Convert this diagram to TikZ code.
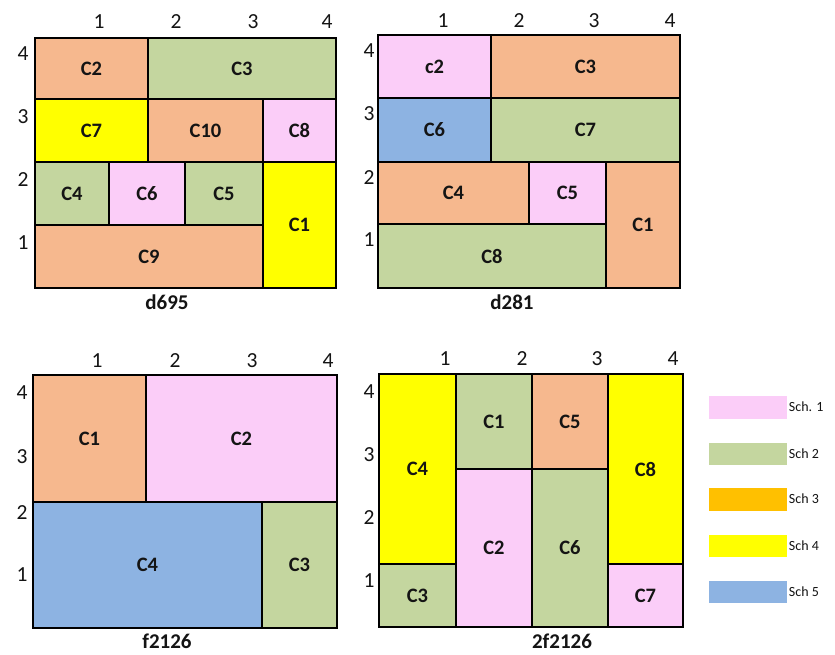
\documentclass[tikz,border=0pt]{standalone}
\usepackage{fontspec}
\setmainfont{Carlito}
\definecolor{peach}{HTML}{F6B88E}
\definecolor{sgreen}{HTML}{C4D69F}
\definecolor{spink}{HTML}{FBCDF8}
\definecolor{syellow}{HTML}{FFFF00}
\definecolor{sblue}{HTML}{8DB3E2}
\definecolor{sorange}{HTML}{FFC000}
\definecolor{ink}{HTML}{141414}
\newcommand\cellbox[7]{%
  \filldraw[fill=#5, draw=black, line width=2pt] (#1,#2) rectangle (#3,#4);
  \node[celltext] (#7) at ({(#1+#3)/2},{(#2+#4)/2}) {#6};}
\tikzset{
  celltext/.style={font=\bfseries\fontsize{20.5}{22}\selectfont, text=ink, inner sep=0pt},
  axnum/.style={font=\fontsize{21.5}{23}\selectfont, text=ink, inner sep=0pt},
  title/.style={font=\bfseries\fontsize{21}{23}\selectfont, text=ink, inner sep=0pt},
  legbox/.style={minimum width=79pt, minimum height=23.5pt, inner sep=0pt, draw=white, line width=0.5pt},
  legtext/.style={font=\fontsize{14}{15}\selectfont, text=ink, inner sep=0pt, anchor=west}
}
\begin{document}
\begin{tikzpicture}[x=1pt,y=-1pt]
\useasboundingbox (0,0) rectangle (835,654);
\fill[white] (0,0) rectangle (835,654);
% ---- d695 ----
\cellbox{35}{38}{148}{99}{peach}{C2}{a2}
\cellbox{148}{38}{336}{99}{sgreen}{C3}{a3}
\cellbox{35}{99}{148}{162}{syellow}{C7}{a7}
\cellbox{148}{99}{263}{162}{peach}{C10}{a10}
\cellbox{263}{99}{336}{162}{spink}{C8}{a8}
\cellbox{35}{162}{109}{225}{sgreen}{C4}{a4}
\cellbox{109}{162}{185}{225}{spink}{C6}{a6}
\cellbox{185}{162}{263}{225}{sgreen}{C5}{a5}
\cellbox{35}{225}{263}{288}{peach}{C9}{a9}
\cellbox{263}{162}{336}{288}{syellow}{C1}{a1}
\node[axnum] (at1) at (99,22) {1};
\node[axnum] (at2) at (176,22) {2};
\node[axnum] (at3) at (253,22) {3};
\node[axnum] (at4) at (327,22) {4};
\node[axnum] (al4) at (23,54) {4};
\node[axnum] (al3) at (23,117) {3};
\node[axnum] (al2) at (23,180) {2};
\node[axnum] (al1) at (23,243) {1};
\node[title] (ta) at (167,302) {d695};
% ---- d281 ----
\cellbox{378}{35}{491}{98}{spink}{c2}{b2}
\cellbox{491}{35}{680}{98}{peach}{C3}{b3}
\cellbox{378}{98}{491}{162}{sblue}{C6}{b6}
\cellbox{491}{98}{680}{162}{sgreen}{C7}{b7}
\cellbox{378}{162}{529}{224}{peach}{C4}{b4}
\cellbox{529}{162}{606}{224}{spink}{C5}{b5}
\cellbox{378}{224}{606}{288}{sgreen}{C8}{b8}
\cellbox{606}{162}{680}{288}{peach}{C1}{b1}
\node[axnum] (bt1) at (443,21) {1};
\node[axnum] (bt2) at (519,21) {2};
\node[axnum] (bt3) at (594,21) {3};
\node[axnum] (bt4) at (670,21) {4};
\node[axnum] (bl4) at (369,51) {4};
\node[axnum] (bl3) at (369,114) {3};
\node[axnum] (bl2) at (369,178) {2};
\node[axnum] (bl1) at (369,240) {1};
\node[title] (tb) at (512,302) {d281};
% ---- f2126 ----
\cellbox{33}{375}{146}{502}{peach}{C1}{c1}
\cellbox{146}{375}{337}{502}{spink}{C2}{c2}
\cellbox{33}{502}{262}{628}{sblue}{C4}{c4}
\cellbox{262}{502}{337}{628}{sgreen}{C3}{c3}
\node[axnum] (ct1) at (97,361) {1};
\node[axnum] (ct2) at (175,361) {2};
\node[axnum] (ct3) at (252,361) {3};
\node[axnum] (ct4) at (328,361) {4};
\node[axnum] (cl4) at (22,393) {4};
\node[axnum] (cl3) at (22,457) {3};
\node[axnum] (cl2) at (22,513) {2};
\node[axnum] (cl1) at (22,575) {1};
\node[title] (tc) at (167,641) {f2126};
% ---- 2f2126 ----
\cellbox{379}{374}{456}{564}{syellow}{C4}{d4}
\cellbox{379}{564}{456}{627}{sgreen}{C3}{d3}
\cellbox{456}{374}{532}{469}{sgreen}{C1}{d1}
\cellbox{456}{469}{532}{627}{spink}{C2}{d2}
\cellbox{532}{374}{608}{469}{peach}{C5}{d5}
\cellbox{532}{469}{608}{627}{sgreen}{C6}{d6}
\cellbox{608}{374}{683}{564}{syellow}{C8}{d8}
\cellbox{608}{564}{683}{627}{spink}{C7}{d7}
\node[axnum] (dt1) at (445,359) {1};
\node[axnum] (dt2) at (522,359) {2};
\node[axnum] (dt3) at (597,359) {3};
\node[axnum] (dt4) at (673,359) {4};
\node[axnum] (dl4) at (369,392) {4};
\node[axnum] (dl3) at (369,455) {3};
\node[axnum] (dl2) at (369,518) {2};
\node[axnum] (dl1) at (369,581) {1};
\node[title] (td) at (562,641) {2f2126};
% ---- legend ----
\node[legbox, fill=spink] (l1) at (747.5,407) {};
\node[legbox, fill=sgreen] (l2) at (747.5,453.5) {};
\node[legbox, fill=sorange] (l3) at (747.5,499) {};
\node[legbox, fill=syellow] (l4) at (747.5,545.5) {};
\node[legbox, fill=sblue] (l5) at (747.5,591.5) {};
\node[legtext] (lt1) at ([xshift=1.5pt]l1.east) {Sch. 1};
\node[legtext] (lt2) at ([xshift=1.5pt]l2.east) {Sch 2};
\node[legtext] (lt3) at ([xshift=1.5pt]l3.east) {Sch 3};
\node[legtext] (lt4) at ([xshift=1.5pt]l4.east) {Sch 4};
\node[legtext] (lt5) at ([xshift=1.5pt]l5.east) {Sch 5};
\end{tikzpicture}
\end{document}
